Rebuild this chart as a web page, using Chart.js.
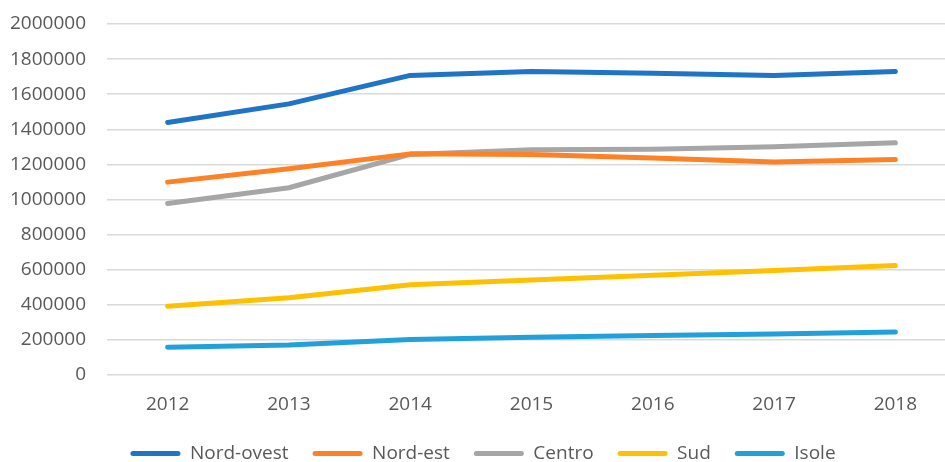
<!DOCTYPE html>
<html>
<head>
<meta charset="utf-8">
<script src="https://cdn.jsdelivr.net/npm/chart.js@4"></script>
<style>
  html, body { margin: 0; padding: 0; background: #fff; overflow: hidden; }
  #wrap { width: 956px; height: 473px; }
</style>
</head>
<body>
<div id="wrap"><canvas id="chart"></canvas></div>
<script>
const years = ['2012', '2013', '2014', '2015', '2016', '2017', '2018'];

const nordOvest = [1439000, 1545000, 1707000, 1730000, 1720000, 1707000, 1730000];
const nordEst   = [1099000, 1175000, 1260000, 1257000, 1236000, 1213000, 1228000];
const centro    = [977000, 1067000, 1257000, 1283000, 1287000, 1300000, 1323000];
const sud       = [392000, 440000, 514000, 541000, 569000, 596000, 624000];
const isole     = [158000, 171000, 202000, 215000, 225000, 234000, 245000];

const textColor = '#595959';
const font = { family: '"Open Sans", sans-serif', size: 19 };

function line(label, data, color) {
  return {
    label: label,
    data: data,
    borderColor: color,
    backgroundColor: color,
    borderWidth: 5,
    borderCapStyle: 'round',
    borderJoinStyle: 'round',
    pointRadius: 0,
    pointHoverRadius: 0,
    tension: 0
  };
}

const ctx = document.getElementById('chart').getContext('2d');
const chart = new Chart(ctx, {
  type: 'line',
  data: {
    labels: years,
    datasets: [
      line('Nord-ovest', nordOvest, '#1F74C8'),
      line('Nord-est', nordEst, '#FF8126'),
      line('Centro', centro, '#A6A6A6'),
      line('Sud', sud, '#FFC000'),
      line('Isole', isole, '#22A0DA')
    ]
  },
  options: {
    responsive: true,
    maintainAspectRatio: false,
    animation: false,
    layout: { padding: { left: 10, right: 0, top: 24, bottom: 0 } },
    plugins: {
      tooltip: { enabled: false },
      legend: {
        position: 'bottom',
        labels: {
          color: textColor,
          font: font,
          boxWidth: 50,
          boxHeight: 5,
          padding: 24,
          useBorderRadius: true,
          borderRadius: 2.5,
          generateLabels: (c) => Chart.defaults.plugins.legend.labels.generateLabels(c)
            .map(l => Object.assign(l, { lineWidth: 0 }))
        }
      }
    },
    scales: {
      x: {
        offset: true,
        grid: { display: false, drawTicks: false },
        border: { display: false },
        ticks: { color: textColor, font: font, padding: 18, maxRotation: 0 },
        afterFit: (axis) => {
          axis.height = 45;
          axis.paddingLeft = 0;
          axis.paddingRight = 0;
        }
      },
      y: {
        min: 0,
        max: 2000000,
        grid: { color: '#D9D9D9', lineWidth: 1.5, drawTicks: false },
        border: { display: false },
        ticks: {
          stepSize: 200000,
          color: textColor,
          font: font,
          padding: 21,
          callback: (v) => String(v)
        },
        afterFit: (axis) => {
          axis.width = 97;
          axis.paddingTop = 0;
          axis.paddingBottom = 0;
        }
      }
    }
  }
});
</script>
</body>
</html>
